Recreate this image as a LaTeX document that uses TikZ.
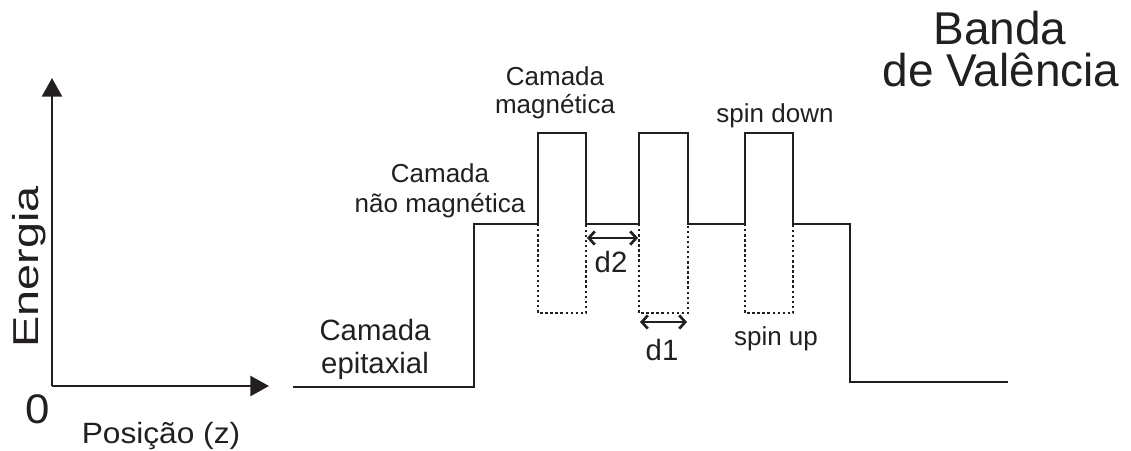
\documentclass[tikz,border=0pt]{standalone}
\usepackage{fontspec}
\setmainfont{Liberation Sans}
\usetikzlibrary{arrows.meta}
\definecolor{ink}{HTML}{231F20}
\begin{document}
\begin{tikzpicture}[x=0.75pt,y=-0.75pt,
  every node/.style={inner sep=0pt,outer sep=0pt,text=ink},
  lbl/.style={anchor=base,font=\fontsize{19.5}{23}\selectfont},
  biglbl/.style={anchor=base,font=\fontsize{22}{26}\selectfont},
  title/.style={anchor=base,font=\fontsize{34.5}{40}\selectfont},
  axis/.style={draw=ink,line width=2pt,-{Triangle[length=14pt,width=15pt]}},
  band/.style={draw=ink,line width=2.2pt,line join=miter},
  ghost/.style={draw=ink,line width=0.8pt,dash pattern=on 1.8pt off 2pt},
  barb/.tip={Straight Barb[length=4.5pt,width=10pt,line width=2pt]},
  gap/.style={draw=ink,line width=0.8pt,barb-barb}]
\useasboundingbox (0,0) rectangle (1131,450);

% axes
\coordinate (origin) at (52,386);
\coordinate (ytip) at (52,78);
\coordinate (xtip) at (269,386);
\draw[axis] (origin) -- (ytip);
\draw[axis] (origin) -- (xtip);
\node[anchor=base,font=\fontsize{31}{36}\selectfont] (zero) at (38,423) {\scalebox{1.06}[1]{0}};
\node[anchor=base,font=\fontsize{22}{26}\selectfont] (xlabel) at (161,443) {\scalebox{1.08}[1]{Posição (z)}};
\node[anchor=base,rotate=90,font=\fontsize{27}{32}\selectfont] (ylabel) at (38,267) {\scalebox{1.3}[1]{Energia}};

% valence band profile
\coordinate (p0) at (293,387);
\coordinate (p1) at (474,387);
\coordinate (p2) at (474,224);
\coordinate (a1) at (538,224); \coordinate (a2) at (538,133);
\coordinate (b1) at (586,224); \coordinate (b2) at (586,133);
\coordinate (c1) at (639,224); \coordinate (c2) at (639,133);
\coordinate (e1) at (688,224); \coordinate (e2) at (688,133);
\coordinate (f1) at (745,224); \coordinate (f2) at (745,133);
\coordinate (g1) at (793,224); \coordinate (g2) at (793,133);
\coordinate (q1) at (850,224);
\coordinate (q2) at (850,382);
\coordinate (q3) at (1008,382);
\draw[band] (p0) -- (p1) -- (p2) -- (a1) -- (a2) -- (b2) -- (b1) -- (c1) -- (c2)
  -- (e2) -- (e1) -- (f1) -- (f2) -- (g2) -- (g1) -- (q1) -- (q2) -- (q3);

% spin-up wells (dotted)
\draw[ghost] (a1) -- (538,313) -- (586,313) -- (b1);
\draw[ghost] (c1) -- (639,313) -- (688,313) -- (e1);
\draw[ghost] (f1) -- (745,313) -- (793,313) -- (g1);

% widths
\coordinate (d2l) at (587,238); \coordinate (d2r) at (638,238);
\coordinate (d1l) at (640,322); \coordinate (d1r) at (687,322);
\draw[gap] (d2l) -- (d2r);
\draw[gap] (d1l) -- (d1r);
\node[biglbl] (d2) at (611,272) {d2};
\node[biglbl] (d1) at (662,360) {d1};

% labels
\node[lbl] (mag1) at (555,85) {Camada};
\node[lbl] (mag2) at (555,113) {magnética};
\node[lbl] (nmag1) at (440,182) {Camada};
\node[lbl] (nmag2) at (440,212) {não magnética};
\node[biglbl] (epi1) at (375,340) {Camada};
\node[biglbl] (epi2) at (375,373) {epitaxial};
\node[lbl] (sdown) at (775,122) {spin down};
\node[lbl] (sup) at (776,345) {spin up};
\node[title,text depth=0pt] (t1) at (1000,44) {Banda};
\node[title,text height=0.74em] (t2) at (1001,86) {de Valência};
\end{tikzpicture}
\end{document}
